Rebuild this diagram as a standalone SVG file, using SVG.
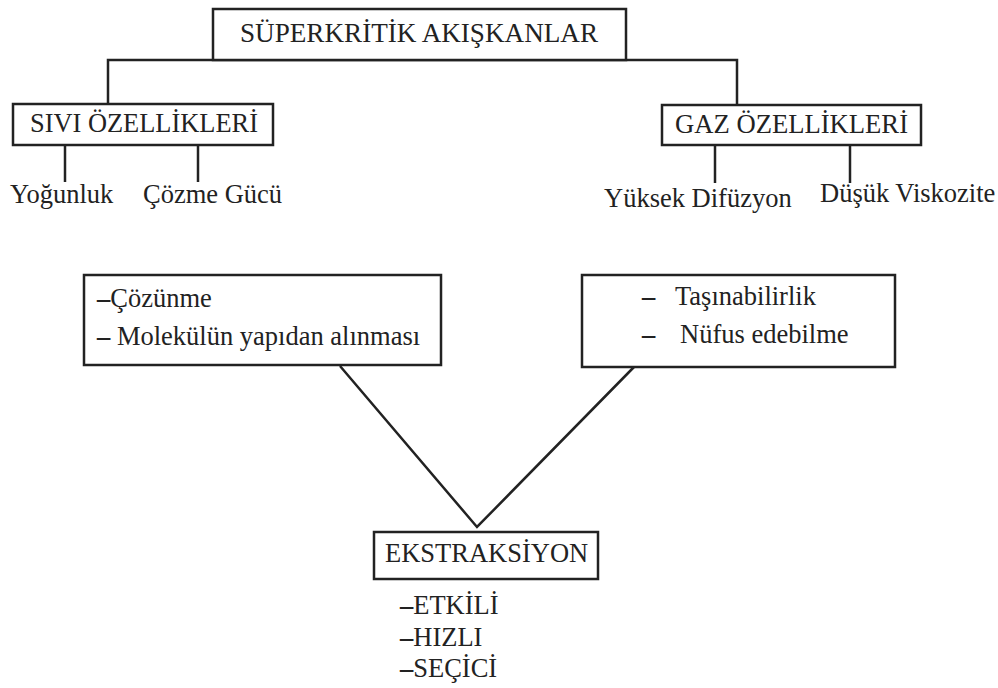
<svg xmlns="http://www.w3.org/2000/svg" width="998" height="688" viewBox="0 0 998 688">
<style>
.box{fill:#fff;stroke:#222;stroke-width:2.5}
.ln{fill:none;stroke:#222;stroke-width:2.5}
text{font-family:"Liberation Serif","Times New Roman",serif;fill:#222;font-size:26.5px}
.h{font-size:27px}
.d{font-weight:bold}
</style>
<rect width="998" height="688" fill="#fff"/>
<g id="connectors">
<polyline class="ln" points="108,104 108,60 737,60 737,105"/>
<line class="ln" x1="65" y1="145" x2="65" y2="182"/>
<line class="ln" x1="198" y1="145" x2="198" y2="182"/>
<line class="ln" x1="715" y1="145" x2="715" y2="183"/>
<line class="ln" x1="850" y1="145" x2="850" y2="183"/>
<polyline class="ln" points="340,366 477,527 634,367"/>
</g>
<g id="superkritik">
<rect class="box" x="213" y="9" width="413" height="51"/>
<text class="h" x="240" y="42" textLength="358" lengthAdjust="spacingAndGlyphs">SÜPERKRİTİK AKIŞKANLAR</text>
</g>
<g id="sivi">
<rect class="box" x="13" y="104" width="260" height="41"/>
<text class="h" x="30" y="132" textLength="228" lengthAdjust="spacingAndGlyphs">SIVI ÖZELLİKLERİ</text>
</g>
<g id="gaz">
<rect class="box" x="662" y="105" width="259" height="40"/>
<text class="h" x="675" y="133" textLength="233" lengthAdjust="spacingAndGlyphs">GAZ ÖZELLİKLERİ</text>
</g>
<g id="yogunluk"><text x="10" y="203">Yoğunluk</text></g>
<g id="cozme"><text x="143" y="203">Çözme Gücü</text></g>
<g id="difuzyon"><text x="604" y="207">Yüksek Difüzyon</text></g>
<g id="viskozite"><text x="820" y="202">Düşük Viskozite</text></g>
<g id="sivi-etki">
<rect class="box" x="84" y="275" width="357" height="90"/>
<text x="97" y="307"><tspan class="d">–</tspan>Çözünme</text>
<text x="97" y="345"><tspan class="d">–</tspan> Molekülün yapıdan alınması</text>
</g>
<g id="gaz-etki">
<rect class="box" x="582" y="275" width="313" height="92"/>
<text x="642" y="305"><tspan class="d">–</tspan></text>
<text x="675" y="305">Taşınabilirlik</text>
<text x="642" y="343"><tspan class="d">–</tspan></text>
<text x="680" y="343">Nüfus edebilme</text>
</g>
<g id="ekstraksiyon">
<rect class="box" x="374" y="532" width="224" height="47"/>
<text x="385" y="562">EKSTRAKSİYON</text>
</g>
<g id="ozellikler">
<text x="400" y="614"><tspan class="d">–</tspan>ETKİLİ</text>
<text x="400" y="646"><tspan class="d">–</tspan>HIZLI</text>
<text x="400" y="677"><tspan class="d">–</tspan>SEÇİCİ</text>
</g>
</svg>
